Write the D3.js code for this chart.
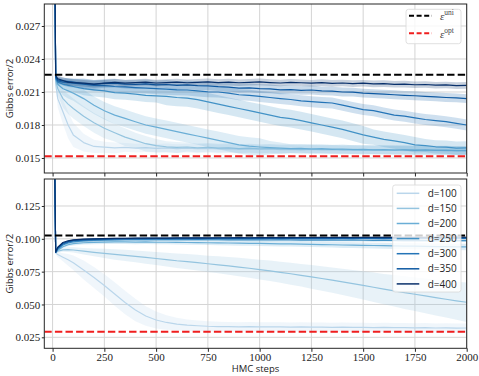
<!DOCTYPE html>
<html><head><meta charset="utf-8">
<script src="https://cdn.jsdelivr.net/npm/d3@7"></script>
<style>body{margin:0;background:#fff}svg{display:block}</style>
</head><body>
<svg id="chart" width="479" height="376"></svg>
<script>
// ---------- DATA ----------
const steps = [0,15,25,50,75,100,
 150,200,250,300,350,400,450,500,550,600,
 650,700,750,800,850,900,950,1000,1050,1100,
 1150,1200,1250,1300,1350,1400,1450,1500,1550,1600,
 1650,1700,1750,1800,1850,1900,1950,2000];
const dLabels = ["d=100","d=150","d=200","d=250","d=300","d=350","d=400"];
const xTickValues = [0,250,500,750,1000,1250,1500,1750,2000];
const topYTicks = [0.015,0.018,0.021,0.024,0.027];
const botYTicks = [0.025,0.050,0.075,0.100,0.125];
const topUni = 0.02257, topOpt = 0.01515;
const botUni = 0.1025, botOpt = 0.0293;

// top panel means
const top_d100 = [0.060,0.0217,0.0204,0.0192,0.0180,0.0171,
 0.0164,0.01605,0.01598,0.01592,0.01596,0.01590,0.01594,0.01588,0.01592,0.01586,
 0.01590,0.01584,0.01588,0.01582,0.01586,0.01580,0.01583,0.01578,0.01582,0.01576,
 0.01579,0.01574,0.01578,0.01573,0.01576,0.01571,0.01574,0.01570,0.01573,0.01568,
 0.01571,0.01567,0.01570,0.01565,0.01568,0.01564,0.01566,0.01563];
const top_d150 = [0.060,0.0220,0.0213,0.0204,0.0199,0.0195,
 0.0188,0.0182,0.0177,0.0173,0.0169,0.0166,0.0163,0.01612,0.01602,0.01596,
 0.01600,0.01592,0.01596,0.01589,0.01593,0.01586,0.01590,0.01584,0.01588,0.01582,
 0.01585,0.01580,0.01583,0.01578,0.01581,0.01576,0.01579,0.01574,0.01577,0.01573,
 0.01575,0.01571,0.01574,0.01570,0.01572,0.01568,0.01570,0.01567];
const top_d200 = [0.060,0.0222,0.0217,0.0213,0.0211,0.0209,
 0.0204,0.0198,0.0193,0.0189,0.0186,0.0183,0.0180,0.0178,0.0176,0.0174,
 0.0172,0.0170,0.0168,0.0166,0.0164,0.0162,0.01608,0.0160,0.01594,0.01590,
 0.01586,0.01588,0.01582,0.01585,0.01579,0.01582,0.01576,0.01579,0.01574,0.01577,
 0.01572,0.01575,0.01570,0.01573,0.01569,0.01571,0.01567,0.01570];
const top_d250 = [0.060,0.0222,0.0219,0.0217,0.0216,0.0215,
 0.0213,0.0212,0.0211,0.02095,0.0209,0.0208,0.0207,0.02065,0.0206,0.0205,
 0.02045,0.0203,0.0201,0.0199,0.0197,0.0195,0.0193,0.0191,0.0189,0.0187,
 0.01858,0.0184,0.0182,0.0180,0.0178,0.0176,0.01735,0.0171,0.0169,0.0167,
 0.01655,0.0164,0.0162,0.01612,0.01602,0.01598,0.0159,0.01592];
const top_d300 = [0.060,0.0223,0.0220,0.0219,0.02185,0.0218,
 0.02172,0.0216,0.02158,0.0215,0.02146,0.0214,0.02136,0.0213,0.02125,0.0212,
 0.02118,0.0211,0.02102,0.0210,0.0209,0.02075,0.0207,0.0206,0.0205,0.0204,
 0.02032,0.0202,0.02012,0.02005,0.0200,0.0198,0.0196,0.0194,0.0193,0.0191,
 0.0189,0.0188,0.01864,0.0185,0.0184,0.0183,0.01815,0.0180];
const top_d350 = [0.060,0.0224,0.0221,0.0220,0.02195,0.0219,
 0.02175,0.0217,0.02178,0.0218,0.02172,0.02168,0.02174,0.02165,0.02168,0.0216,
 0.02164,0.02158,0.02155,0.02148,0.02145,0.02136,0.02138,0.0213,0.02128,0.0212,
 0.02122,0.02115,0.02118,0.0211,0.02108,0.0210,0.02098,0.0209,0.02085,0.0208,
 0.02075,0.0207,0.02066,0.0206,0.02056,0.0205,0.02046,0.0204];
const top_d400 = [0.060,0.0225,0.0222,0.02205,0.0219,0.02185,
 0.0218,0.02172,0.0218,0.02188,0.0218,0.02185,0.0219,0.02182,0.02186,0.0219,
 0.02184,0.02188,0.02192,0.02186,0.0219,0.02184,0.02188,0.02192,0.02186,0.02182,
 0.02188,0.02184,0.0218,0.02185,0.02178,0.02182,0.02176,0.0218,0.02174,0.02176,
 0.0217,0.02172,0.02166,0.02168,0.02162,0.02164,0.02158,0.0216];

// top panel std bands
const sd_top_d100 = [0,0.0003,0.0008,0.0011,0.0012,0.0011,
 0.0008,0.0006,0.0005,0.0005,0.0004,0.0004,0.0004,0.0004,0.0004,0.0004,
 0.0004,0.0004,0.0004,0.0004,0.0004,0.0004,0.0004,0.0004,0.0004,0.0004,
 0.0004,0.0004,0.0004,0.0004,0.0004,0.0004,0.0004,0.0004,0.0004,0.0004,
 0.0004,0.0004,0.0004,0.0004,0.0004,0.0004,0.0004,0.0004];
const sd_top_d150 = [0,0.0003,0.0006,0.0008,0.0009,0.0009,
 0.0009,0.0009,0.0009,0.0008,0.0008,0.0007,0.0007,0.0006,0.0005,0.0005,
 0.0004,0.0004,0.0004,0.0004,0.0004,0.0004,0.0004,0.0004,0.0004,0.0004,
 0.0004,0.0004,0.0004,0.0004,0.0004,0.0004,0.0004,0.0004,0.0004,0.0004,
 0.0004,0.0004,0.0004,0.0004,0.0004,0.0004,0.0004,0.0004];
const sd_top_d200 = [0,0.0002,0.0004,0.0006,0.0007,0.0007,
 0.0008,0.0008,0.0008,0.0008,0.0008,0.0008,0.0008,0.0008,0.0008,0.0008,
 0.0008,0.0008,0.0008,0.0008,0.0008,0.0008,0.0008,0.0008,0.0006,0.0005,
 0.0004,0.0004,0.0004,0.0004,0.0004,0.0004,0.0004,0.0004,0.0004,0.0004,
 0.0004,0.0004,0.0004,0.0004,0.0004,0.0004,0.0004,0.0004];
const sd_top_d250 = [0,0.0002,0.0003,0.0004,0.0005,0.0005,
 0.0006,0.0006,0.0006,0.0006,0.0006,0.0006,0.0006,0.0006,0.0008,0.0008,
 0.0008,0.0008,0.0008,0.0008,0.0008,0.0008,0.0008,0.0008,0.0008,0.0008,
 0.0008,0.0008,0.0008,0.0008,0.0008,0.0008,0.0008,0.0008,0.0007,0.0007,
 0.0007,0.0007,0.0007,0.0006,0.0006,0.0006,0.0006,0.0006];
const sd_top_d300 = [0,0.0002,0.0003,0.0003,0.0004,0.0004,
 0.0005,0.0005,0.0005,0.0005,0.0005,0.0005,0.0005,0.0005,0.0005,0.0005,
 0.0005,0.0005,0.0005,0.0005,0.0005,0.0005,0.0005,0.0005,0.0005,0.0005,
 0.0005,0.0005,0.0005,0.0005,0.0005,0.0005,0.0005,0.0005,0.0005,0.0005,
 0.0005,0.0005,0.0005,0.0005,0.0005,0.0005,0.0005,0.0005];
const sd_top_d350 = [0,0.0002,0.0003,0.0003,0.0003,0.0003,
 0.0004,0.0004,0.0004,0.0004,0.0004,0.0004,0.0004,0.0004,0.0004,0.0004,
 0.0004,0.0004,0.0004,0.0004,0.0004,0.0004,0.0004,0.0004,0.0004,0.0004,
 0.0004,0.0004,0.0004,0.0004,0.0004,0.0004,0.0004,0.0004,0.0004,0.0004,
 0.0004,0.0004,0.0004,0.0004,0.0004,0.0004,0.0004,0.0004];
const sd_top_d400 = [0,0.0002,0.0003,0.0003,0.0003,0.0003,
 0.0003,0.0003,0.0003,0.0003,0.0003,0.0003,0.0003,0.0003,0.0003,0.0003,
 0.0003,0.0003,0.0003,0.0003,0.0003,0.0003,0.0003,0.0003,0.0003,0.0003,
 0.0003,0.0003,0.0003,0.0003,0.0003,0.0003,0.0003,0.0003,0.0003,0.0003,
 0.0003,0.0003,0.0003,0.0003,0.0003,0.0003,0.0003,0.0003];

// bottom panel means
const bot_d100 = [0.30,0.0895,0.0880,0.0860,0.0840,0.0818,
 0.0762,0.0705,0.0645,0.0580,0.0515,0.0458,0.0412,0.0382,0.0363,0.0351,
 0.0343,0.0338,0.0334,0.0332,0.0331,0.0330,0.0331,0.0330,0.0329,0.0330,
 0.0328,0.0329,0.0327,0.0328,0.0326,0.0327,0.0325,0.0326,0.0324,0.0325,
 0.0323,0.0324,0.0322,0.0323,0.0321,0.0322,0.0320,0.0321];
const bot_d150 = [0.30,0.0896,0.0905,0.0916,0.0918,0.0915,
 0.0906,0.0897,0.0889,0.0881,0.0874,0.0866,0.0858,0.0850,0.0842,0.0833,
 0.0826,0.0818,0.0810,0.0802,0.0794,0.0785,0.0776,0.0766,0.0756,0.0745,
 0.0734,0.0722,0.0710,0.0698,0.0685,0.0672,0.0659,0.0645,0.0631,0.0617,
 0.0604,0.0590,0.0578,0.0565,0.0552,0.0540,0.0528,0.0517];
const bot_d200 = [0.30,0.0895,0.0912,0.0940,0.0955,0.0963,
 0.0970,0.0973,0.0975,0.0976,0.0976,0.0975,0.0976,0.0974,0.0974,0.0973,
 0.0972,0.0971,0.0970,0.0969,0.0968,0.0967,0.0966,0.0965,0.0963,0.0962,
 0.0961,0.0959,0.0958,0.0956,0.0955,0.0953,0.0952,0.0950,0.0949,0.0948,
 0.0946,0.0945,0.0944,0.0942,0.0941,0.0940,0.0939,0.0938];
const bot_d250 = [0.30,0.0896,0.0920,0.0953,0.0968,0.0977,
 0.0984,0.0988,0.0990,0.0992,0.0993,0.0993,0.0994,0.0993,0.0994,0.0993,
 0.0993,0.0994,0.0993,0.0993,0.0992,0.0993,0.0992,0.0992,0.0991,0.0992,
 0.0991,0.0990,0.0991,0.0990,0.0990,0.0989,0.0990,0.0989,0.0988,0.0989,
 0.0988,0.0987,0.0988,0.0987,0.0986,0.0987,0.0986,0.0986];
const bot_d300 = [0.30,0.0897,0.0926,0.0960,0.0975,0.0984,
 0.0990,0.0994,0.0996,0.0998,0.0999,0.1000,0.0999,0.1000,0.1001,0.1000,
 0.1001,0.1000,0.1001,0.1002,0.1001,0.1002,0.1001,0.1002,0.1002,0.1001,
 0.1002,0.1003,0.1002,0.1003,0.1002,0.1003,0.1002,0.1003,0.1003,0.1002,
 0.1003,0.1004,0.1003,0.1003,0.1004,0.1003,0.1004,0.1003];
const bot_d350 = [0.30,0.0898,0.0931,0.0966,0.0980,0.0988,
 0.0994,0.0997,0.0999,0.1001,0.1002,0.1002,0.1003,0.1003,0.1004,0.1003,
 0.1004,0.1005,0.1004,0.1005,0.1005,0.1004,0.1005,0.1006,0.1005,0.1006,
 0.1006,0.1005,0.1006,0.1007,0.1006,0.1007,0.1006,0.1007,0.1007,0.1006,
 0.1007,0.1008,0.1007,0.1008,0.1007,0.1008,0.1008,0.1008];
const bot_d400 = [0.30,0.0899,0.0936,0.0972,0.0985,0.0992,
 0.0997,0.1000,0.1002,0.1003,0.1004,0.1005,0.1005,0.1006,0.1006,0.1007,
 0.1007,0.1008,0.1007,0.1008,0.1008,0.1009,0.1008,0.1009,0.1009,0.1010,
 0.1009,0.1010,0.1010,0.1011,0.1010,0.1011,0.1010,0.1011,0.1011,0.1012,
 0.1011,0.1012,0.1011,0.1012,0.1012,0.1012,0.1013,0.1012];

// bottom panel std bands
const sd_bot_d100 = [0,0.001,0.002,0.003,0.0045,0.0055,
 0.0072,0.008,0.0085,0.009,0.009,0.0085,0.0075,0.0065,0.0055,0.0048,
 0.0043,0.0040,0.0038,0.0037,0.0036,0.0035,0.0035,0.0035,0.0035,0.0035,
 0.0035,0.0035,0.0035,0.0035,0.0035,0.0035,0.0035,0.0035,0.0035,0.0035,
 0.0035,0.0035,0.0035,0.0035,0.0035,0.0035,0.0035,0.0035];
const sd_bot_d150 = [0,0.0005,0.001,0.0015,0.0018,0.002,
 0.0025,0.003,0.0035,0.004,0.0042,0.0045,0.0048,0.005,0.0052,0.0055,
 0.0058,0.006,0.0062,0.0065,0.0068,0.007,0.0073,0.0075,0.0078,0.008,
 0.0083,0.0086,0.009,0.0093,0.0096,0.010,0.0104,0.0108,0.0112,0.0116,
 0.012,0.0124,0.0128,0.0132,0.0136,0.014,0.0145,0.015];
const sd_bot_d200 = [0,0.0005,0.0008,0.001,0.0012,0.0013,
 0.0014,0.0014,0.0015,0.0015,0.0015,0.0016,0.0016,0.0016,0.0016,0.0017,
 0.0017,0.0017,0.0018,0.0018,0.0018,0.0019,0.0019,0.0019,0.002,0.002,
 0.002,0.002,0.0021,0.0021,0.0021,0.0022,0.0022,0.0022,0.0022,0.0023,
 0.0023,0.0023,0.0023,0.0024,0.0024,0.0024,0.0024,0.0025];
const sd_bot_d250 = [0,0.0004,0.0006,0.0008,0.0009,0.0009,
 0.001,0.001,0.001,0.001,0.001,0.001,0.001,0.001,0.001,0.001,
 0.001,0.001,0.001,0.001,0.001,0.001,0.001,0.001,0.001,0.001,
 0.001,0.001,0.001,0.001,0.001,0.001,0.001,0.001,0.001,0.001,
 0.001,0.001,0.001,0.001,0.001,0.001,0.001,0.001];
const sd_bot_d300 = [0,0.0004,0.0005,0.0006,0.0007,0.0007,
 0.0008,0.0008,0.0008,0.0008,0.0008,0.0008,0.0008,0.0008,0.0008,0.0008,
 0.0008,0.0008,0.0008,0.0008,0.0008,0.0008,0.0008,0.0008,0.0008,0.0008,
 0.0008,0.0008,0.0008,0.0008,0.0008,0.0008,0.0008,0.0008,0.0008,0.0008,
 0.0008,0.0008,0.0008,0.0008,0.0008,0.0008,0.0008,0.0008];
const sd_bot_d350 = [0,0.0003,0.0004,0.0005,0.0005,0.0005,
 0.0006,0.0006,0.0006,0.0006,0.0006,0.0006,0.0006,0.0006,0.0006,0.0006,
 0.0006,0.0006,0.0006,0.0006,0.0006,0.0006,0.0006,0.0006,0.0006,0.0006,
 0.0006,0.0006,0.0006,0.0006,0.0006,0.0006,0.0006,0.0006,0.0006,0.0006,
 0.0006,0.0006,0.0006,0.0006,0.0006,0.0006,0.0006,0.0006];
const sd_bot_d400 = [0,0.0003,0.0004,0.0004,0.0005,0.0005,
 0.0005,0.0005,0.0005,0.0005,0.0005,0.0005,0.0005,0.0005,0.0005,0.0005,
 0.0005,0.0005,0.0005,0.0005,0.0005,0.0005,0.0005,0.0005,0.0005,0.0005,
 0.0005,0.0005,0.0005,0.0005,0.0005,0.0005,0.0005,0.0005,0.0005,0.0005,
 0.0005,0.0005,0.0005,0.0005,0.0005,0.0005,0.0005,0.0005];

// ---------- STYLE ----------
const palette = ["#bad6eb","#94c4df","#6aaed6","#4292c6","#2474b7","#0e59a2","#08306b"];
const serif = "'Liberation Serif','DejaVu Serif',serif";
const sans = "'Open Sans','DejaVu Sans',sans-serif";

const svg = d3.select("#chart");
const L = 44.3, R = 466.7;
const x = d3.scaleLinear().domain([-40, 2000]).range([L, R]);

const topMeans = [top_d100, top_d150, top_d200, top_d250, top_d300, top_d350, top_d400];
const topSds = [sd_top_d100, sd_top_d150, sd_top_d200, sd_top_d250, sd_top_d300, sd_top_d350, sd_top_d400];
const botMeans = [bot_d100, bot_d150, bot_d200, bot_d250, bot_d300, bot_d350, bot_d400];
const botSds = [sd_bot_d100, sd_bot_d150, sd_bot_d200, sd_bot_d250, sd_bot_d300, sd_bot_d350, sd_bot_d400];

function panel(id, top, bottom, yDomain, yTicks, means, sds, uni, opt, showXLabels) {
  const y = d3.scaleLinear().domain(yDomain).range([bottom, top]);
  const g = svg.append("g");
  g.append("clipPath").attr("id", id).append("rect")
    .attr("x", L).attr("y", top).attr("width", R - L).attr("height", bottom - top);
  const grid = g.append("g").attr("stroke", "#d4d4d4").attr("stroke-width", 1);
  grid.selectAll(".vx").data(xTickValues).join("line")
    .attr("x1", d => x(d)).attr("x2", d => x(d)).attr("y1", top).attr("y2", bottom);
  grid.selectAll(".hy").data(yTicks).join("line")
    .attr("x1", L).attr("x2", R).attr("y1", d => y(d)).attr("y2", d => y(d));
  const plot = g.append("g").attr("clip-path", `url(#${id})`);
  means.forEach((m, i) => {
    const pts = steps.map((s, k) => ({s, m: m[k], sd: sds[i][k]}));
    const area = d3.area().x(d => x(d.s)).y0(d => y(d.m - d.sd)).y1(d => y(d.m + d.sd));
    plot.append("path").attr("d", area(pts)).attr("fill", palette[i]).attr("fill-opacity", 0.22);
    const line = d3.line().x(d => x(d.s)).y(d => y(d.m));
    plot.append("path").attr("d", line(pts)).attr("fill", "none")
      .attr("stroke", palette[i]).attr("stroke-width", 1.2).attr("stroke-linejoin", "round");
  });
  [[uni, "#000"], [opt, "#f01e1e"]].forEach(([v, c]) => {
    plot.append("line").attr("x1", L).attr("x2", R).attr("y1", y(v)).attr("y2", y(v))
      .attr("stroke", c).attr("stroke-width", 2).attr("stroke-dasharray", "7.4,3.2");
  });
  g.append("rect").attr("x", L).attr("y", top).attr("width", R - L).attr("height", bottom - top)
    .attr("fill", "none").attr("stroke", "#262626").attr("stroke-width", 1);
  const ya = d3.axisLeft(y).tickValues(yTicks).tickSize(2.5).tickPadding(1.5).tickFormat(d3.format(".3f"));
  const yg = g.append("g").attr("transform", `translate(${L},0)`).call(ya);
  const xa = d3.axisBottom(x).tickValues(xTickValues).tickSize(3.5).tickPadding(1)
    .tickFormat(showXLabels ? d3.format("d") : () => "");
  const xg = g.append("g").attr("transform", `translate(0,${bottom})`).call(xa);
  [yg, xg].forEach(a => {
    a.select(".domain").remove();
    a.selectAll(".tick line").attr("stroke", "#262626");
    a.selectAll(".tick text").attr("fill", "#222").style("font-family", serif).style("font-size", "11px");
  });
  g.append("text").attr("transform", `translate(12.5,${(top + bottom) / 2}) rotate(-90)`)
    .attr("text-anchor", "middle").style("font-family", sans).style("font-size", "9.5px")
    .attr("fill", "#222").text("Gibbs error/2");
  return y;
}

panel("clipTop", 4, 173, [0.013636, 0.029], topYTicks, topMeans, topSds, topUni, topOpt, false);
panel("clipBot", 179, 348.3, [0.01662, 0.14556], botYTicks, botMeans, botSds, botUni, botOpt, true);

svg.append("text").attr("x", (L + R) / 2).attr("y", 371.5).attr("text-anchor", "middle")
  .style("font-family", sans).style("font-size", "9.5px").attr("fill", "#222").text("HMC steps");

// legend top
const lg1 = svg.append("g");
lg1.append("rect").attr("x", 406).attr("y", 9.3).attr("width", 55).attr("height", 34.4).attr("rx", 2.5)
  .attr("fill", "#fff").attr("fill-opacity", 0.8).attr("stroke", "#d8d8d8").attr("stroke-width", 0.8);
[["uni", "#000", 15.7], ["opt", "#f01e1e", 33.3]].forEach(([sup, c, yy]) => {
  lg1.append("line").attr("x1", 409).attr("x2", 432).attr("y1", yy).attr("y2", yy)
    .attr("stroke", c).attr("stroke-width", 2).attr("stroke-dasharray", "5,2.6");
  const t = lg1.append("text").attr("x", 440).attr("y", yy + 4.6)
    .style("font-family", serif).style("font-size", "11px").attr("fill", "#444");
  t.append("tspan").style("font-style", "italic").text("ε");
  t.append("tspan").attr("dy", -4.8).style("font-size", "7.5px").text(sup);
});

// legend bottom
const lg2 = svg.append("g");
lg2.append("rect").attr("x", 392.7).attr("y", 185).attr("width", 68.3).attr("height", 107).attr("rx", 2.5)
  .attr("fill", "#fff").attr("fill-opacity", 0.8).attr("stroke", "#d8d8d8").attr("stroke-width", 0.8);
dLabels.forEach((lab, i) => {
  const yy = 193.3 + i * 15.1;
  lg2.append("line").attr("x1", 396.7).attr("x2", 419.3).attr("y1", yy).attr("y2", yy)
    .attr("stroke", palette[i]).attr("stroke-width", 1.5);
  lg2.append("text").attr("x", 427.7).attr("y", yy + 3.6)
    .style("font-family", sans).style("font-size", "10px").attr("fill", "#222").text(lab);
});
</script>
</body></html>
